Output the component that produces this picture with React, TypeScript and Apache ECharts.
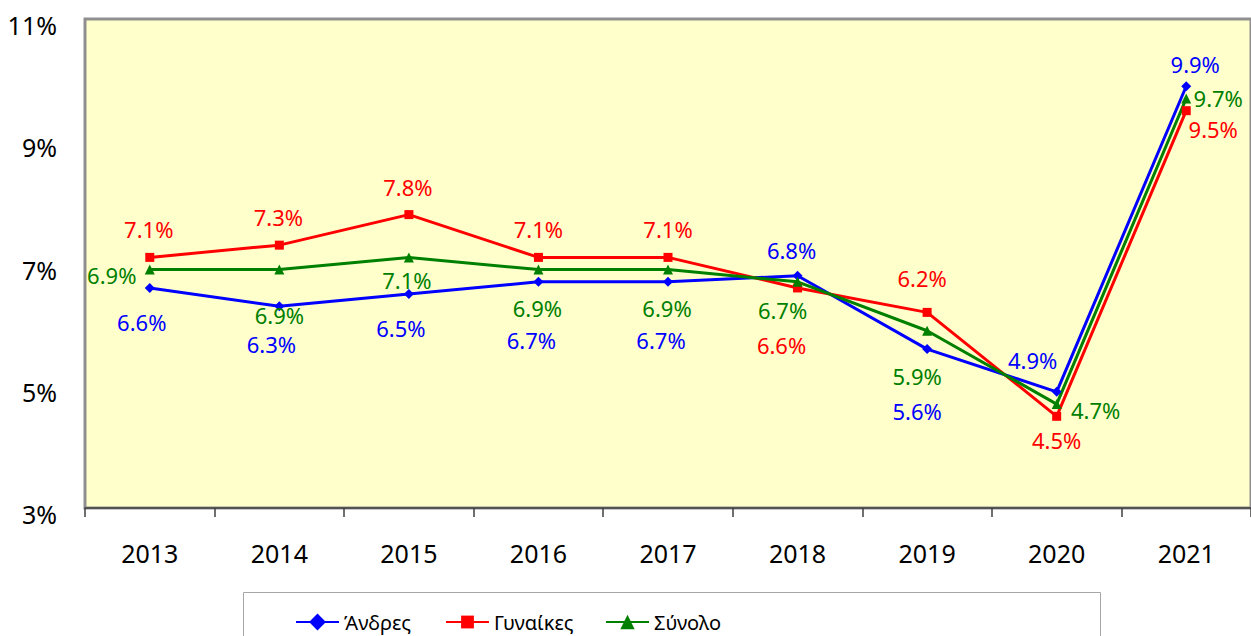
import React, { useEffect, useRef } from "react";
import * as echarts from "echarts";

const categories = ["2013", "2014", "2015", "2016", "2017", "2018", "2019", "2020", "2021"];
const men = [6.6, 6.3, 6.5, 6.7, 6.7, 6.8, 5.6, 4.9, 9.9];
const women = [7.1, 7.3, 7.8, 7.1, 7.1, 6.6, 6.2, 4.5, 9.5];
const total = [6.9, 6.9, 7.1, 6.9, 6.9, 6.7, 5.9, 4.7, 9.7];
const seriesNames = ["Άνδρες", "Γυναίκες", "Σύνολο"];

// label placement offsets (style, not data)
const menLabelOffsets = [[-8, 34], [-8, 38], [-8, 34], [-7, 58], [-7, 58], [-6, -26], [-10, 62], [-24, -32], [9, -22]];
const womenLabelOffsets = [[-1, -28], [-1, -28], [-1, -28], [0, -28], [0, -28], [-16, 57], [-5, -34], [0, 24], [27, 18]];
const totalLabelOffsets = [[-38, 5], [0, 45], [-2, 23], [-1, 38], [-1, 38], [-15, 28], [-10, 45], [39, 6], [32, 0]];

const FONT = "'Noto Sans', 'Open Sans', sans-serif";

function makeSeries(name: string, values: number[], offsets: number[][], color: string, symbol: string, symbolSize: number) {
  return {
    name,
    type: "line",
    data: values.map((v, i) => ({ value: v, label: { offset: offsets[i] } })),
    symbol,
    symbolSize,
    lineStyle: { color, width: 3 },
    itemStyle: { color },
    label: {
      show: true,
      position: "inside",
      color,
      fontFamily: FONT,
      fontSize: 22,
      lineHeight: 18,
      formatter: (p: any) => p.value.toFixed(1) + "%",
    },
    emphasis: { disabled: true },
  };
}

export default function App() {
  const ref = useRef<HTMLDivElement>(null);
  useEffect(() => {
    if (!ref.current) return;
    const chart = echarts.init(ref.current, undefined, { renderer: "svg" });
    const legendBase = {
      top: 612,
      itemWidth: 43,
      textStyle: { fontFamily: FONT, fontSize: 20, color: "#000", lineHeight: 20 },
      selectedMode: false,
      padding: 0,
      itemGap: 0,
    };
    chart.setOption({
      animation: false,
      backgroundColor: "#fff",
      grid: {
        left: 85,
        top: 19,
        right: -2,
        bottom: 128,
        show: true,
        backgroundColor: "#FFFFCC",
        borderColor: "#8f8f8f",
        borderWidth: 3,
      },
      xAxis: {
        type: "category",
        data: categories,
        boundaryGap: true,
        axisLine: { show: true, lineStyle: { color: "#404040", width: 1.5 } },
        axisTick: { show: true, length: 9, interval: 0, lineStyle: { color: "#404040", width: 1.5 } },
        axisLabel: { color: "#000", fontFamily: FONT, fontSize: 25, margin: 32, interval: 0 },
        splitLine: { show: false },
      },
      yAxis: {
        type: "value",
        min: 3,
        max: 11,
        interval: 2,
        axisLine: { show: false },
        axisTick: { show: false },
        splitLine: { show: false },
        axisLabel: {
          color: "#000",
          fontFamily: FONT,
          fontSize: 25,
          margin: 28,
          verticalAlign: "top",
          lineHeight: 12,
          formatter: "{value}%",
        },
      },
      legend: [
        { ...legendBase, left: 295, itemHeight: 21, data: [seriesNames[0]] },
        { ...legendBase, left: 445, itemHeight: 16, data: [seriesNames[1]] },
        { ...legendBase, left: 605, itemHeight: 18, data: [seriesNames[2]] },
      ],
      graphic: [
        {
          type: "rect",
          shape: { x: 243.5, y: 592.5, width: 857, height: 60 },
          style: { fill: "#fff", stroke: "#a6a6a6", lineWidth: 1 },
          z: -1,
        },
      ],
      series: [
        makeSeries(seriesNames[0], men, menLabelOffsets, "#0000FF", "diamond", 10),
        makeSeries(seriesNames[1], women, womenLabelOffsets, "#FF0000", "rect", 9),
        makeSeries(seriesNames[2], total, totalLabelOffsets, "#008000", "triangle", 10),
      ],
    });
    return () => chart.dispose();
  }, []);
  return (
    <div style={{ position: "fixed", left: 0, top: 0, width: 1251, height: 636, background: "#fff" }}>
      <div ref={ref} style={{ width: 1251, height: 636 }} />
    </div>
  );
}
